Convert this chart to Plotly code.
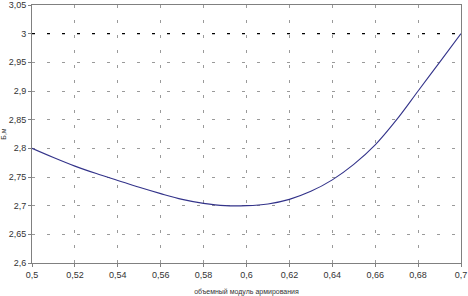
import plotly.graph_objects as go

x_vals = [0.50, 0.51, 0.52, 0.53, 0.54, 0.55, 0.56, 0.57, 0.58, 0.59, 0.60,
          0.61, 0.62, 0.63, 0.64, 0.65, 0.66, 0.67, 0.68, 0.69, 0.70]
b_vals = [2.800, 2.784, 2.769, 2.756, 2.744, 2.732, 2.721, 2.711, 2.704, 2.700, 2.700,
          2.703, 2.711, 2.725, 2.745, 2.772, 2.806, 2.850, 2.900, 2.950, 3.000]
limit_x = [0.5, 0.7]
limit_y = [3.0, 3.0]

x_ticks = [0.50, 0.52, 0.54, 0.56, 0.58, 0.60, 0.62, 0.64, 0.66, 0.68, 0.70]
x_ticktext = ["0,5", "0,52", "0,54", "0,56", "0,58", "0,6", "0,62", "0,64", "0,66", "0,68", "0,7"]
y_ticks = [2.60, 2.65, 2.70, 2.75, 2.80, 2.85, 2.90, 2.95, 3.00, 3.05]
y_ticktext = ["2,6", "2,65", "2,7", "2,75", "2,8", "2,85", "2,9", "2,95", "3", "3,05"]

fig = go.Figure()
fig.add_trace(go.Scatter(x=limit_x, y=limit_y, mode="lines",
                         line=dict(color="#000000", width=1.3, dash="3px,12px"),
                         hoverinfo="skip", showlegend=False))
fig.add_trace(go.Scatter(x=x_vals, y=b_vals, mode="lines", line_shape="spline",
                         line=dict(color="#33338a", width=1.1), showlegend=False))

font_family = "Liberation Sans, Arial, sans-serif"
fig.update_layout(
    width=468, height=296,
    margin=dict(l=32, r=7, t=5, b=33),
    paper_bgcolor="white", plot_bgcolor="white",
    showlegend=False,
    font=dict(family=font_family, size=9, color="#333333"),
    xaxis=dict(range=[0.5, 0.7], tickvals=x_ticks, ticktext=x_ticktext,
               automargin=False,
               showgrid=True, gridcolor="#9a9a9a", gridwidth=1, griddash="3px,12px",
               showline=True, linecolor="#808080", linewidth=1, mirror=True,
               ticks="outside", ticklen=3, tickcolor="#808080",
               zeroline=False, tickfont=dict(size=9),
               title=dict(text="объемный модуль армирования", font=dict(size=7))),
    yaxis=dict(range=[2.6, 3.05], tickvals=y_ticks, ticktext=y_ticktext,
               automargin=False,
               showgrid=True, gridcolor="#9a9a9a", gridwidth=1, griddash="3px,12px",
               showline=True, linecolor="#808080", linewidth=1, mirror=True,
               ticks="outside", ticklen=3, tickcolor="#808080",
               zeroline=False, tickfont=dict(size=9),
               title=dict(text="Б,м", font=dict(size=7))),
)

fig.write_html("out.html", config={"displayModeBar": False},
               post_script="document.body.style.margin='0';document.body.style.overflow='hidden';")
